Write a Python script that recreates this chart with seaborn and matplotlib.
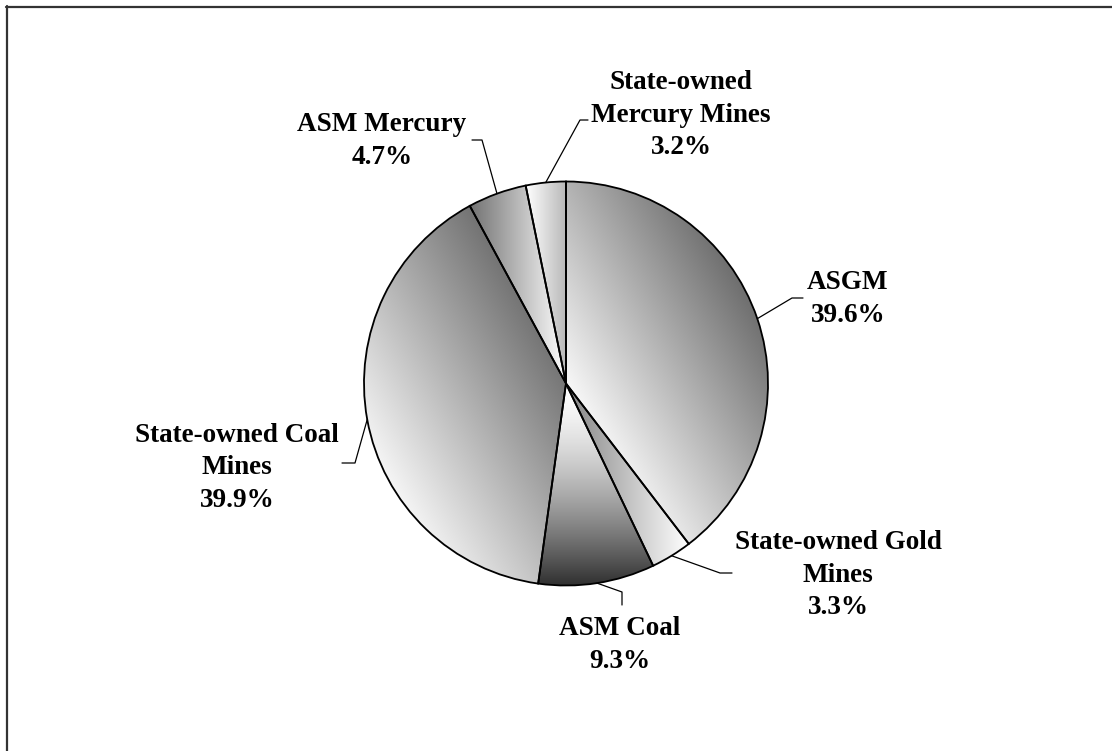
import numpy as np
import matplotlib
matplotlib.use("Agg")
import matplotlib.pyplot as plt
from matplotlib.lines import Line2D
import seaborn as sns

# Mercury release sources, share of total (%)
categories = ["ASGM", "State-owned Gold Mines", "ASM Coal",
              "State-owned Coal Mines", "ASM Mercury", "State-owned Mercury Mines"]
shares = [39.6, 3.3, 9.3, 39.9, 4.7, 3.2]
label_names = ["ASGM", "State-owned Gold\nMines", "ASM Coal",
               "State-owned Coal\nMines", "ASM Mercury", "State-owned\nMercury Mines"]

# Gradient fill per slice: (direction in degrees, start grey, end grey, gamma)
shading = [
    (30, 0.97, 0.42, 1.0),
    (0, 0.52, 1.00, 1.0),
    (-90, 1.00, 0.18, 1.5),
    (30, 0.97, 0.45, 1.0),
    (0, 0.45, 1.00, 1.0),
    (0, 1.00, 0.72, 1.0),
]

# Figure geometry in pixels
W, H, DPI = 1112, 751, 100
CX, CY, R = 566, 383.5, 202

# Label placement in pixels: text centre, leader elbow, leader end
label_layout = [
    ((848, 299), (792, 298), (803, 298)),
    ((838, 575), (720, 573), (732, 573)),
    ((620, 645), (622, 592), (622, 605)),
    ((237, 468), (355, 463), (342, 463)),
    ((382, 141), (482, 140), (472, 140)),
    ((681, 115), (580, 120), (588, 120)),
]


def px(p):
    """Pixel position (from top-left) to data units around the pie centre."""
    return ((p[0] - CX) / R, (CY - p[1]) / R)


sns.set_style("white")
plt.rcParams["font.family"] = ["Liberation Serif", "DejaVu Serif"]
plt.rcParams["font.weight"] = "bold"

fig = plt.figure(figsize=(W / DPI, H / DPI), dpi=DPI)
fig.patch.set_facecolor("white")
ax = fig.add_axes([0, 0, 1, 1])

wedges, _ = ax.pie(
    shares, startangle=90, counterclock=False, radius=1, center=(0, 0),
    wedgeprops=dict(facecolor="none", edgecolor="black", linewidth=1.3),
)

# Gradient fills clipped to each wedge
n = 600
gx, gy = np.meshgrid(np.linspace(-1.05, 1.05, n), np.linspace(-1.05, 1.05, n))
for w, (ang, c0, c1, g) in zip(wedges, shading):
    th = np.deg2rad(ang)
    verts = w.get_patch_transform().transform(w.get_path().vertices)
    proj_v = verts[:, 0] * np.cos(th) + verts[:, 1] * np.sin(th)
    p = gx * np.cos(th) + gy * np.sin(th)
    t = np.clip((p - proj_v.min()) / (proj_v.max() - proj_v.min()), 0, 1) ** g
    grey = c0 + (c1 - c0) * t
    img = np.dstack([grey, grey, grey])
    im = ax.imshow(img, extent=(-1.05, 1.05, -1.05, 1.05), origin="lower",
                   interpolation="bilinear", zorder=1)
    im.set_clip_path(w)
    w.set_zorder(3)

# Labels with leader lines from each slice's mid-angle on the rim
for w, name, val, (tc, elbow, end) in zip(wedges, label_names, shares, label_layout):
    mid = np.deg2rad((w.theta1 + w.theta2) / 2)
    rim = (np.cos(mid), np.sin(mid))
    e, d = px(elbow), px(end)
    ax.add_line(Line2D([rim[0], e[0], d[0]], [rim[1], e[1], d[1]],
                       color="black", linewidth=0.9, zorder=4))
    tx, ty = px(tc)
    ax.text(tx, ty, f"{name}\n{val:.1f}%", ha="center", va="center",
            multialignment="center", fontsize=19.5, fontweight="bold",
            color="black", linespacing=1.42, zorder=5)

ax.set_xlim(-CX / R, (W - CX) / R)
ax.set_ylim(-(H - CY) / R, CY / R)
ax.set_aspect("auto")
ax.axis("off")

# Chart-area border along the top and left
fig.add_artist(Line2D([6 / W, 1], [1 - 7 / H, 1 - 7 / H], transform=fig.transFigure,
                      color="#333333", linewidth=1.6))
fig.add_artist(Line2D([7 / W, 7 / W], [0, 1 - 6 / H], transform=fig.transFigure,
                      color="#333333", linewidth=1.6))

fig.savefig("out.png", dpi=DPI)
